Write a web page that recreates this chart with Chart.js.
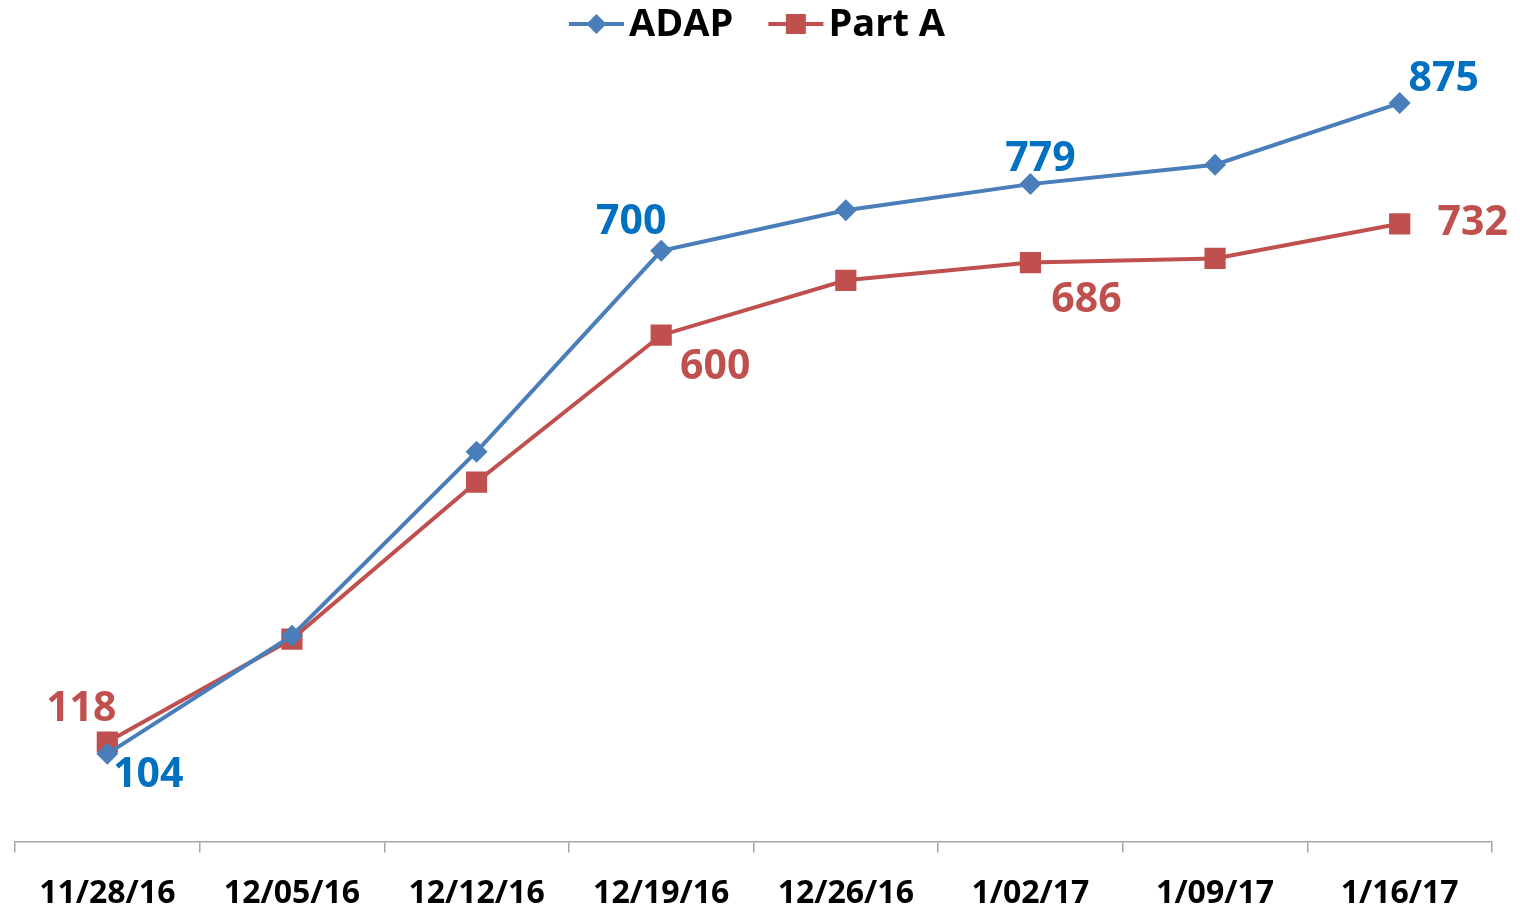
<!DOCTYPE html>
<html>
<head>
<meta charset="utf-8">
<script src="https://cdn.jsdelivr.net/npm/chart.js@4.4.0/dist/chart.umd.min.js"></script>
<style>
	html, body { margin: 0; padding: 0; background: #fff; }
</style>
</head>
<body>
<canvas id="graficoSemanal" width="1520" height="910"></canvas>
<script>
var semanas = ['11/28/16', '12/05/16', '12/12/16', '12/19/16', '12/26/16', '1/02/17', '1/09/17', '1/16/17'];
var valoresAdap = [104, 244, 462, 700, 748, 779, 802, 875];
var valoresParteA = [118, 240, 426, 600, 665, 686, 691, 732];
var nomesSeries = ['ADAP', 'Part A'];

var AZUL = '#4a7ebb';
var AZUL_TEXTO = '#0070c0';
var VERMELHO = '#c0504d';
var FONTE = '"Open Sans", "Liberation Sans", sans-serif';

// rótulos de valor: índice do ponto -> deslocamento do centro do texto
var rotulos = [
	{ 0: [41, 22], 3: [-30, -28], 5: [10, -25], 7: [44, -24] },
	{ 0: [-26, -33], 3: [54, 32], 5: [56, 38], 7: [73, 0] }
];
var coresRotulo = [AZUL_TEXTO, VERMELHO];

var pluginRotulos = {
	id: 'rotulos',
	afterDatasetsDraw: function(chart) {
		var ctx = chart.ctx;
		ctx.save();
		ctx.font = 'bold 41px ' + FONTE;
		ctx.textAlign = 'center';
		ctx.textBaseline = 'middle';
		chart.data.datasets.forEach(function(ds, d) {
			var meta = chart.getDatasetMeta(d);
			Object.keys(rotulos[d]).forEach(function(k) {
				var i = parseInt(k, 10);
				var p = meta.data[i];
				var off = rotulos[d][k];
				ctx.fillStyle = coresRotulo[d];
				ctx.fillText(String(ds.data[i]), p.x + off[0], p.y + off[1]);
			});
		});
		ctx.restore();
	}
};

// legenda desenhada à mão: linha + marcador como no Excel
var pluginLegenda = {
	id: 'legendaLinha',
	afterDraw: function(chart) {
		var ctx = chart.ctx;
		var y = 24;
		var larguraLinha = 55;
		ctx.save();
		ctx.font = 'bold 38px ' + FONTE;
		ctx.textBaseline = 'middle';
		var itens = chart.data.datasets.map(function(ds) {
			return { ds: ds, w: ctx.measureText(ds.label).width };
		});
		var total = 0;
		itens.forEach(function(it, i) {
			total += larguraLinha + 5 + it.w + (i < itens.length - 1 ? 35 : 0);
		});
		var x = 757 - total / 2;
		itens.forEach(function(it) {
			var ds = it.ds;
			ctx.strokeStyle = ds.borderColor;
			ctx.lineWidth = 4;
			ctx.beginPath();
			ctx.moveTo(x, y);
			ctx.lineTo(x + larguraLinha, y);
			ctx.stroke();
			ctx.fillStyle = ds.borderColor;
			var cx = x + larguraLinha / 2;
			if (ds.pointStyle === 'rectRot') {
				ctx.beginPath();
				ctx.moveTo(cx, y - 10);
				ctx.lineTo(cx + 10, y);
				ctx.lineTo(cx, y + 10);
				ctx.lineTo(cx - 10, y);
				ctx.closePath();
				ctx.fill();
			} else {
				ctx.fillRect(cx - 10, y - 10, 20, 20);
			}
			ctx.fillStyle = '#000';
			ctx.fillText(ds.label, x + larguraLinha + 5, y + 1);
			x += larguraLinha + 5 + it.w + 35;
		});
		ctx.restore();
	}
};

var ctx = document.getElementById('graficoSemanal').getContext('2d');
var grafico = new Chart(ctx, {
	type: 'line',
	data: {
		labels: semanas,
		datasets: [{
			label: nomesSeries[0],
			data: valoresAdap,
			borderColor: AZUL,
			backgroundColor: AZUL,
			borderWidth: 4,
			pointStyle: 'rectRot',
			pointRadius: 11,
			pointBorderWidth: 0,
			pointBackgroundColor: AZUL,
			tension: 0,
			fill: false
		}, {
			label: nomesSeries[1],
			data: valoresParteA,
			borderColor: VERMELHO,
			backgroundColor: VERMELHO,
			borderWidth: 4,
			pointStyle: 'rect',
			pointRadius: 15,
			pointBorderWidth: 0,
			pointBackgroundColor: VERMELHO,
			tension: 0,
			fill: false
		}]
	},
	options: {
		responsive: false,
		animation: false,
		layout: {
			padding: { top: 82, left: 14, right: 28, bottom: -25 }
		},
		plugins: {
			legend: { display: false },
			tooltip: { enabled: false },
			title: { display: false }
		},
		scales: {
			x: {
				offset: true,
				grid: {
					offset: true,
					drawOnChartArea: false,
					drawTicks: true,
					tickLength: 11,
					color: '#a6a6a6',
					lineWidth: 1.5
				},
				border: { color: '#a6a6a6', width: 1.5 },
				ticks: {
					autoSkip: false,
					maxRotation: 0,
					padding: 22,
					color: '#000',
					font: { family: FONTE, size: 32, weight: 'bold' }
				}
			},
			y: {
				display: false,
				min: 0,
				max: 900
			}
		}
	},
	plugins: [pluginRotulos, pluginLegenda]
});
</script>
</body>
</html>
